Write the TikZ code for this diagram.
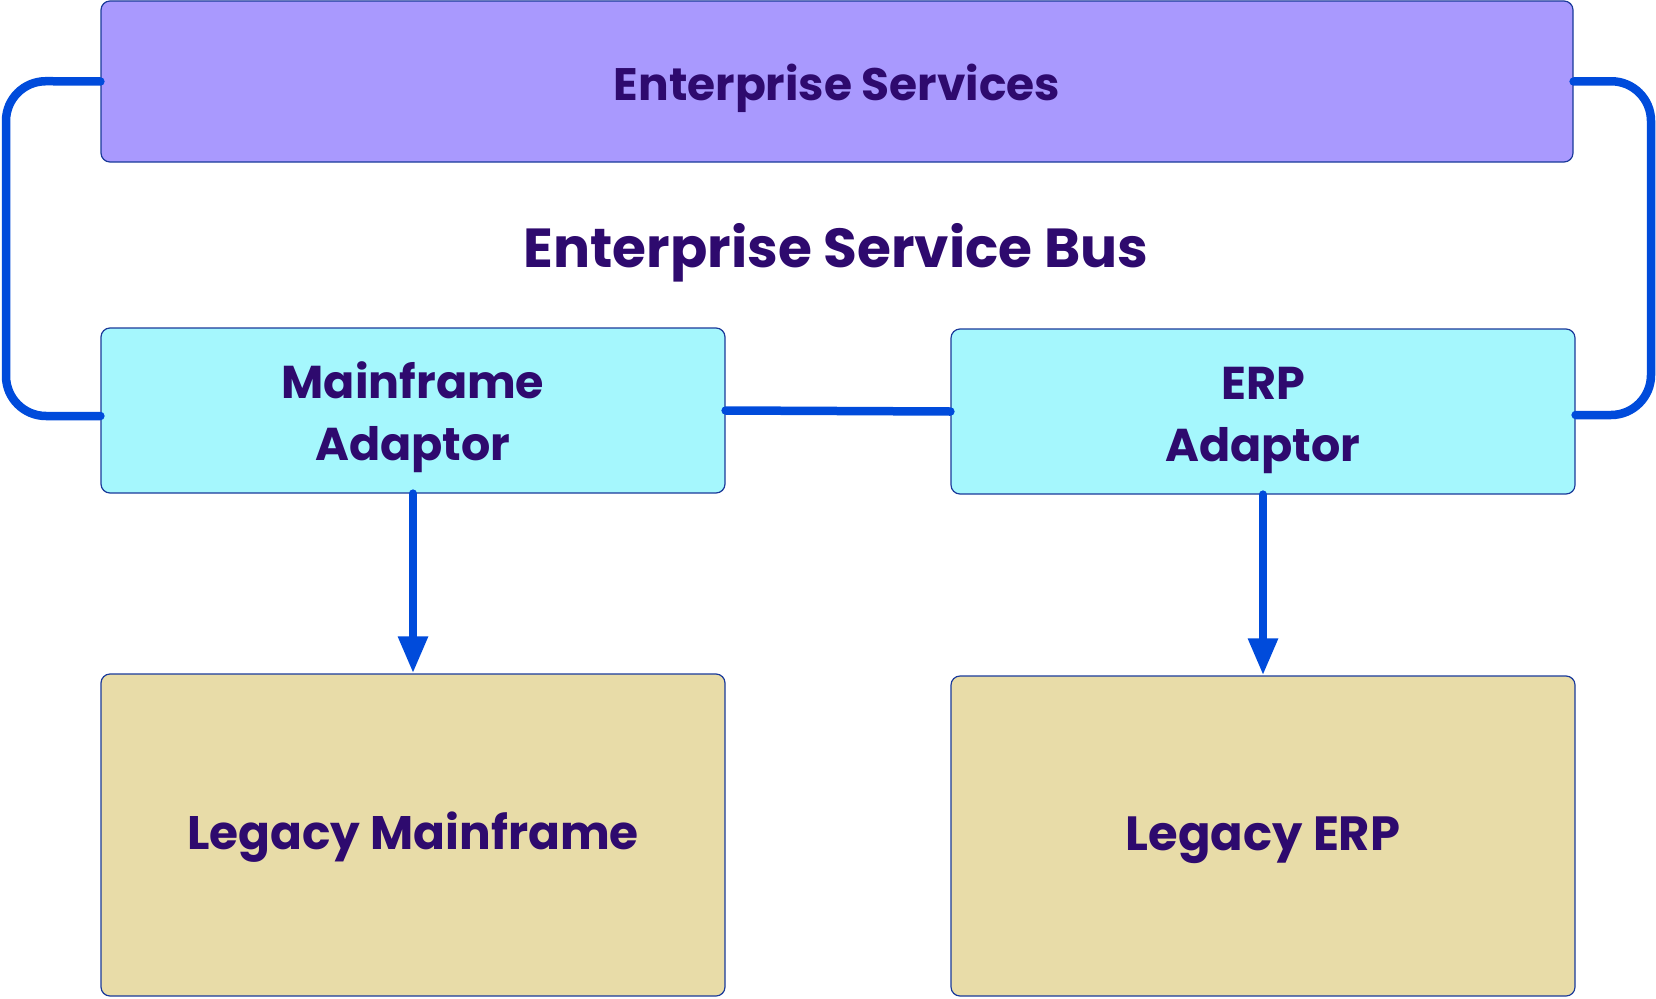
\documentclass[tikz,border=0pt]{standalone}
\usepackage{fontspec}
\setmainfont{Poppins}
\usetikzlibrary{arrows.meta,calc}
\definecolor{txt}{HTML}{2E0A6E}
\definecolor{svc}{HTML}{A999FE}
\definecolor{adp}{HTML}{A5F7FD}
\definecolor{leg}{HTML}{E8DCA8}
\definecolor{bord}{HTML}{1A3A9A}
\definecolor{wire}{HTML}{004BDB}
\tikzset{
  box/.style={draw=bord, line width=1.2pt, rounded corners=9pt, inner sep=0pt},
  lbl/.style={text=txt, align=center, inner sep=0pt, font=\fontsize{#1}{62}\selectfont\bfseries},
  wireline/.style={draw=wire, line width=8.5pt, line cap=round},
  arr/.style={wireline, -{Triangle[width=28pt,length=37pt]}},
}
\begin{document}
\begin{tikzpicture}[x=1pt,y=-1pt]
\useasboundingbox (0,0) rectangle (1656,998);
\node[box, fill=svc, minimum width=1472pt, minimum height=161pt] (top) at (837,81.5) {};
\node[lbl=45.5] (top-t) at (837,88) {Enterprise Services};
\node[lbl=55] (bus) at (836,253) {Enterprise Service Bus};
\node[box, fill=adp, minimum width=624pt, minimum height=165pt] (ma) at (413,410.5) {};
\node[lbl=46] (ma-t) at (413,417) {Mainframe\\Adaptor};
\node[box, fill=adp, minimum width=624pt, minimum height=165pt] (erp) at (1263,411.5) {};
\node[lbl=46] (erp-t) at (1263,420) {ERP\\Adaptor};
\node[box, fill=leg, minimum width=624pt, minimum height=322pt] (lm) at (413,835) {};
\node[lbl=47] (lm-t) at (413,837) {Legacy Mainframe};
\node[box, fill=leg, minimum width=624pt, minimum height=320pt] (le) at (1263,836) {};
\node[lbl=48] (le-t) at (1263,840) {Legacy ERP};
\coordinate (l1) at (6,81);
\coordinate (l2) at (6,416);
\coordinate (r1) at (1651,81);
\coordinate (r2) at (1651,415);
\draw[wireline, rounded corners=40pt] (top.west) -- (l1) -- (l2) -- ($(ma.west)+(0,5.5)$);
\draw[wireline, rounded corners=40pt] (top.east) -- (r1) -- (r2) -- ($(erp.east)+(0,3.5)$);
\draw[wireline] (ma.east) -- (erp.west);
\draw[arr] (ma.south) -- (lm.north);
\draw[arr] (erp.south) -- (le.north);
\end{tikzpicture}
\end{document}
